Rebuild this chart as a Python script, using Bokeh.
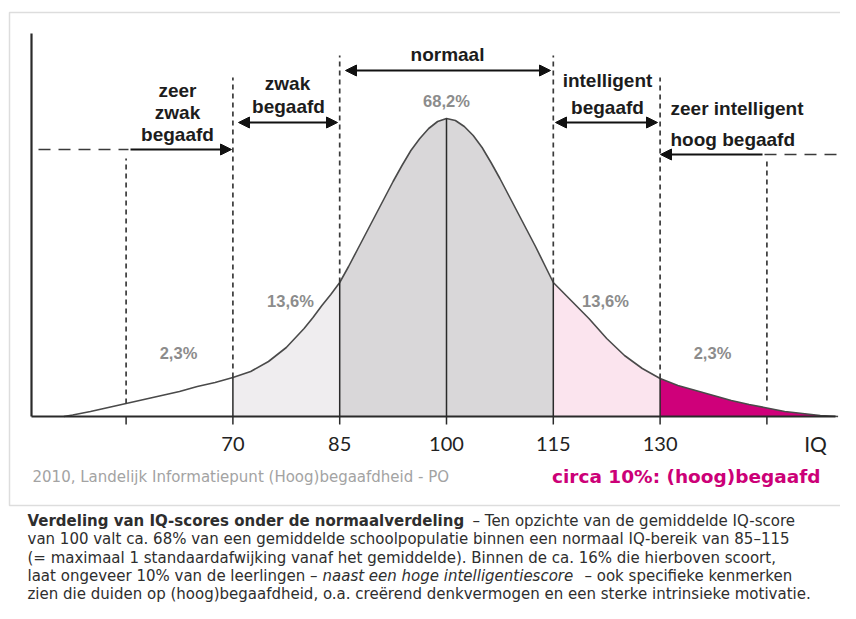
from bokeh.plotting import figure
from bokeh.models import Label, Arrow, NormalHead
from bokeh.embed import file_html
from bokeh.resources import INLINE

# ---------------- data ----------------
iq = [46.25, 47.5, 50, 52.5, 55, 57.5, 60, 62.5, 65, 67.5, 70, 72.5, 75, 77.5,
      80, 81.25, 82.5, 83.75, 85, 86.25, 87.5, 88.75, 90, 91.25, 92.5, 93.75,
      95, 96.25, 97.5, 98.75, 100, 101.25, 102.5, 103.75, 105, 106.25, 107.5,
      108.75, 110, 111.25, 112.5, 113.75, 115, 116.25, 117.5, 118.75, 120,
      122.5, 125, 127.5, 130, 132.5, 135, 137.5, 140, 142.5, 145, 147.5, 150,
      152.5, 155]
height = [0, 1.5, 5, 9, 13, 17, 21, 25, 30, 34, 39, 45, 55, 69,
          88, 99, 111, 122, 134, 150, 167, 184, 201, 218, 235, 251,
          266, 278, 288, 295, 298, 296, 290, 281, 269, 254, 238,
          221, 204, 187, 170, 152, 134, 125, 116, 107, 98,
          78, 61, 48, 38, 31, 26, 21, 16, 12, 8.5, 5, 3,
          1, 0]

band_lo = [70, 85, 115, 130]
band_hi = [85, 115, 130, 155]
band_colors = ["#efedef", "#d9d7d9", "#fbe4ee", "#cf007a"]

boundary_iq = [70, 85, 100, 115, 130]
minor_tick_iq = [55, 145]
tick_labels = ["70", "85", "100", "115", "130"]

pct_labels = ["2,3%", "13,6%", "68,2%", "13,6%", "2,3%"]

# ---------------- layout helpers (picture pixels -> data) ----------------
W, H = 840, 603
SCALE = 7.12           # px per IQ point
X0 = 100 - 446 / SCALE
X1 = X0 + W / SCALE
BASE = 416             # baseline from top of figure


def X(img_x):
    return 100 + (img_x - 446) / SCALE


def Y(img_y):
    return 416 - img_y


h_at = dict(zip(iq, height))

p = figure(width=W, height=H, x_range=(X0, X1), y_range=(-(H - BASE), BASE),
           output_backend="svg", toolbar_location=None, min_border=0,
           x_axis_type=None, y_axis_type=None, outline_line_color=None,
           background_fill_color="white", border_fill_color="white")
p.grid.visible = False

# frame of the picture
p.quad(left=X(9), right=X(900), top=Y(12), bottom=Y(505),
       fill_color=None, line_color="#dddddd", line_width=1.5)

# shaded bands under the curve
for lo, hi, col in zip(band_lo, band_hi, band_colors):
    xs = [v for v in iq if lo <= v <= hi]
    ys = [h_at[v] for v in xs]
    p.varea(x=xs, y1=[0] * len(xs), y2=ys, fill_color=col)

# curve
p.line(iq, height, line_color="#4a4a4a", line_width=1.6)

# axes lines
p.line([X(31), X(31)], [Y(33), 0], line_color="#2a2a2a", line_width=2.2)
p.line([X(31), X(835)], [0, 0], line_color="#2a2a2a", line_width=2.2)

# solid boundary lines under the curve (with ticks below baseline)
p.segment(x0=boundary_iq, y0=[-8] * 5, x1=boundary_iq,
          y1=[h_at[b] for b in boundary_iq], line_color="#2a2a2a", line_width=1.5)
p.segment(x0=minor_tick_iq, y0=[-8] * 2, x1=minor_tick_iq, y1=[0] * 2,
          line_color="#2a2a2a", line_width=1.5)

# dashed guide lines above the curve
guide_x = [55, 70, 85, 115, 130, 145]
guide_top = [Y(158), Y(77), Y(55), Y(55), Y(77), Y(160)]
guide_bot = [h_at[55], h_at[70], h_at[85], h_at[115], h_at[130], 16]
p.segment(x0=guide_x, y0=guide_bot, x1=guide_x, y1=guide_top,
          line_color="#3a3a3a", line_width=1.7, line_dash="5 4")

# horizontal dashed lines
p.line([X(38), X(128)], [Y(149)] * 2, line_color="#3a3a3a", line_width=1.7, line_dash="12 8")
p.line([X(764), X(870)], [Y(154)] * 2, line_color="#3a3a3a", line_width=1.7, line_dash="12 8")


def head():
    return NormalHead(size=11, fill_color="#111111", line_color="#111111")


arrows = [
    (X(130), Y(149), X(231), Y(149), False),
    (X(238), Y(122), X(337), Y(122), True),
    (X(345), Y(70), X(550), Y(70), True),
    (X(555), Y(122), X(657), Y(122), True),
    (X(762), Y(154), X(660), Y(154), False),
]
for xs_, ys_, xe, ye, both in arrows:
    p.add_layout(Arrow(x_start=xs_, y_start=ys_, x_end=xe, y_end=ye,
                       end=head(), start=head() if both else None,
                       line_color="#111111", line_width=2))


def lab(x, y, t, size, color, style="bold", font="Liberation Sans", align="center"):
    p.add_layout(Label(x=x, y=y, text=t, text_font=font, text_font_size=f"{size}px",
                       text_font_style=style, text_color=color, text_align=align,
                       text_baseline="middle"))


dark = "#1c1c1c"
for t, xi, yi in [("zeer", 177, 90), ("zwak", 177, 112), ("begaafd", 177, 134),
                  ("zwak", 287, 83), ("begaafd", 288, 106), ("normaal", 447, 54),
                  ("intelligent", 607, 80), ("begaafd", 607, 107)]:
    lab(X(xi), Y(yi), t, 19, dark)
lab(X(670), Y(108), "zeer intelligent", 19, dark, align="left")
lab(X(670), Y(139), "hoog begaafd", 19, dark, align="left")

# percentages
for t, xi, yi in zip(pct_labels, [178, 290, 446, 605, 712], [352, 300, 100, 300, 352]):
    lab(X(xi), Y(yi), t, 16.5, "#8c8c8c")

# tick labels
for t, v in zip(tick_labels, boundary_iq):
    lab(v, Y(443), t, 20, "#222222", style="normal", font="Lato")
lab(X(815), Y(443), "IQ", 21, "#222222", style="normal", font="Lato")

# footer
lab(X(32), Y(476), "2010, Landelijk Informatiepunt (Hoog)begaafdheid - PO", 15,
    "#a3a3a3", style="normal", font="DejaVu Sans", align="left")
lab(X(820), Y(476), "circa 10%: (hoog)begaafd", 18.5, "#cc0077", style="bold",
    font="DejaVu Sans", align="right")

# caption
cap = "#2e2e2e"
cf = "DejaVu Sans"
cs = 15
rows = [520, 538.5, 557, 575, 593]
lab(X(27), Y(rows[0]), "Verdeling van IQ-scores onder de normaalverdeling", cs, cap,
    style="bold", font=cf, align="left")
lab(X(472), Y(rows[0]), "– Ten opzichte van de gemiddelde IQ-score", cs, cap,
    style="normal", font=cf, align="left")
lab(X(27), Y(rows[1]), "van 100 valt ca. 68% van een gemiddelde schoolpopulatie binnen een normaal IQ-bereik van 85–115",
    cs, cap, style="normal", font=cf, align="left")
lab(X(27), Y(rows[2]), "(= maximaal 1 standaardafwijking vanaf het gemiddelde). Binnen de ca. 16% die hierboven scoort,",
    cs, cap, style="normal", font=cf, align="left")
lab(X(27), Y(rows[3]), "laat ongeveer 10% van de leerlingen –", cs, cap, style="normal", font=cf, align="left")
lab(X(322), Y(rows[3]), "naast een hoge intelligentiescore", cs, cap, style="italic", font=cf, align="left")
lab(X(584), Y(rows[3]), "– ook specifieke kenmerken", cs, cap, style="normal", font=cf, align="left")
lab(X(27), Y(rows[4]), "zien die duiden op (hoog)begaafdheid, o.a. creërend denkvermogen en een sterke intrinsieke motivatie.",
    cs, cap, style="normal", font=cf, align="left")

open("out.html", "w").write(file_html(p, INLINE))
